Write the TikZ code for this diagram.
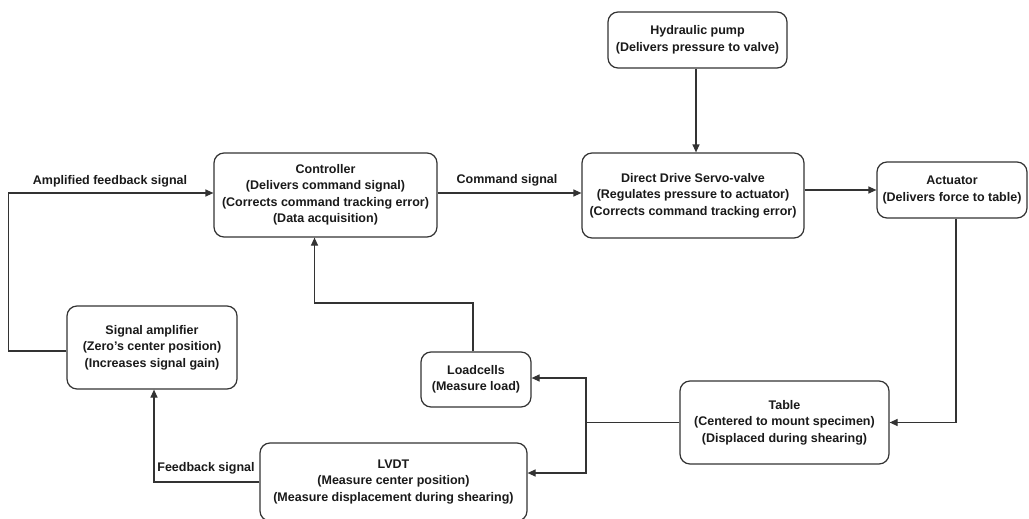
\documentclass[tikz,border=0pt]{standalone}
\usepackage{fontspec}
\setmainfont{Liberation Sans}
\usetikzlibrary{arrows.meta,calc}
\definecolor{ln}{HTML}{333333}
\definecolor{tx}{HTML}{1A1A1A}
\begin{document}
\begin{tikzpicture}[x=1pt,y=-1pt,
  blk/.style={draw=ln,line width=1.2pt,rounded corners=10pt,inner sep=0pt,align=center,text=tx,
    font=\bfseries\fontsize{12.5}{16.5}\selectfont},
  lbl/.style={inner sep=0pt,text=tx,font=\bfseries\fontsize{12.5}{16.5}\selectfont},
  conn/.style={draw=ln,line width=1.2pt},
  arr/.style={conn,-{Triangle[length=8pt,width=7pt]}}]
\useasboundingbox[fill=white] (0,0) rectangle (1029,519);

\node[blk,minimum width=179pt,minimum height=56pt] (pump) at (697.5,40) {Hydraulic pump\\(Delivers pressure to valve)};
\node[blk,minimum width=222pt,minimum height=85pt] (servo) at (693,195.5) {Direct Drive Servo-valve\\(Regulates pressure to actuator)\\(Corrects command tracking error)};
\node[blk,minimum width=150pt,minimum height=56pt] (act) at (952,190) {Actuator\\(Delivers force to table)};
\node[blk,minimum width=223pt,minimum height=84pt] (ctrl) at (325.5,195) {Controller\\(Delivers command signal)\\(Corrects command tracking error)\\(Data acquisition)};
\node[blk,minimum width=170pt,minimum height=83pt] (amp) at (152,347.5) {Signal amplifier\\(Zero's center position)\\(Increases signal gain)};
\node[blk,minimum width=110pt,minimum height=55pt] (load) at (476,379.5) {Loadcells\\(Measure load)};
\node[blk,minimum width=267pt,minimum height=78pt] (lvdt) at (393.5,482) {LVDT\\(Measure center position)\\(Measure displacement during shearing)};
\node[blk,minimum width=209pt,minimum height=83pt] (table) at (784.5,422.5) {Table\\(Centered to mount specimen)\\(Displaced during shearing)};

\node[lbl] (lamp) at (110,181) {Amplified feedback signal};
\node[lbl] (lcmd) at (507,180) {Command signal};
\node[lbl] (lfb) at (206,468) {Feedback signal};

% connectors
\coordinate (a1) at ($(amp.west)+(0,3.5)$);
\coordinate (c0) at ($(ctrl.west)+(0,-2)$);
\draw[arr] (a1) -- ++(-58,0) |- (c0);
\coordinate (c1) at ($(ctrl.east)+(0,-2)$);
\draw[arr] (c1) -- (c1 -| servo.west);
\draw[arr] (pump.south -| 696,0) -- (servo.north -| 696,0);
\draw[arr] (act.west -| servo.east) -- (act.west);
\draw[arr] (act.south -| 956,0) |- (table.east);
\coordinate (br) at (586,422.5);
\draw[conn] (table.west) -- (br);
\coordinate (l1) at ($(load.east)+(0,-1.5)$);
\coordinate (v1) at ($(lvdt.east)+(0,-9)$);
\draw[arr] (br) |- (l1);
\draw[arr] (br) |- (v1);
\coordinate (c2) at ($(ctrl.south)+(-11,0)$);
\draw[arr] (load.north -| 473,0) -- (473,303) -| (c2);
\draw[arr] (lvdt.west) -| (amp.south -| 154,0);
\end{tikzpicture}
\end{document}
